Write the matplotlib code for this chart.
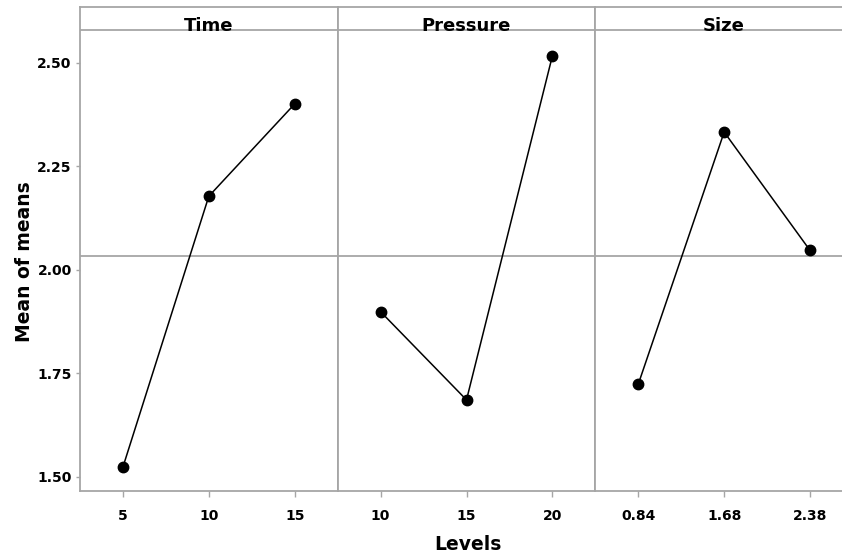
import numpy as np
import matplotlib
matplotlib.use("Agg")
import matplotlib.pyplot as plt

# valors llegits del gràfic
factors = ["Time", "Pressure", "Size"]
levels_time = ["5", "10", "15"]
means_time = [1.524, 2.178, 2.401]
levels_pressure = ["10", "15", "20"]
means_pressure = [1.899, 1.686, 2.517]
levels_size = ["0.84", "1.68", "2.38"]
means_size = [1.724, 2.333, 2.047]
y_ticks = [1.50, 1.75, 2.00, 2.25, 2.50]

all_levels = [levels_time, levels_pressure, levels_size]
all_means = [means_time, means_pressure, means_size]
grand_mean = np.mean(means_time + means_pressure + means_size)

plt.rcParams['font.family'] = ['DejaVu Sans']
grey = "#a6a6a6"

fig = plt.figure(figsize=(8.42, 5.58), dpi=100)

left, right = 80 / 842, 853 / 842
bottom, top = 1 - 491 / 558, 1 - 7 / 558
w = (right - left) / 3

for i, (name, levs, vals) in enumerate(zip(factors, all_levels, all_means)):
    ax = fig.add_axes([left + i * w, bottom, w, top - bottom])
    x = np.arange(1, len(levs) + 1)
    ax.plot(x, vals, color="black", lw=1.1, marker="o", ms=7.5, zorder=3)
    ax.axhline(grand_mean, color=grey, lw=1.3, zorder=1)
    ax.axhline(2.58, color=grey, lw=1.3, zorder=1)
    # títol del panell, assegut sobre la línia de capçalera
    ax.text(2, 2.578, name, ha="center", va="baseline", fontsize=13,
            fontweight="bold", zorder=4)

    ax.set_xlim(0.5, 3.5)
    ax.set_ylim(1.466, 2.635)
    ax.set_xticks(x)
    ax.set_xticklabels(levs, fontsize=10, fontweight="bold")
    for s in ax.spines.values():
        s.set_color(grey)
        s.set_linewidth(1.3)
    ax.tick_params(axis="x", colors=grey, length=4, width=1, pad=9,
                   labelcolor="black")
    if i == 0:
        ax.set_yticks(y_ticks)
        ax.set_yticklabels([f"{v:.2f}" for v in y_ticks], fontsize=10,
                           fontweight="bold")
        ax.tick_params(axis="y", colors=grey, length=3, width=1, pad=3,
                       labelcolor="black")
    else:
        ax.set_yticks([])

fig.text(25 / 842, 1 - 262 / 558, "Mean of means", rotation=90,
         ha="center", va="center", fontsize=13.5, fontweight="bold")
fig.text(468 / 842, 1 - 545 / 558, "Levels", ha="center", va="center",
         fontsize=13.5, fontweight="bold")

plt.savefig("out.png", dpi=100)
